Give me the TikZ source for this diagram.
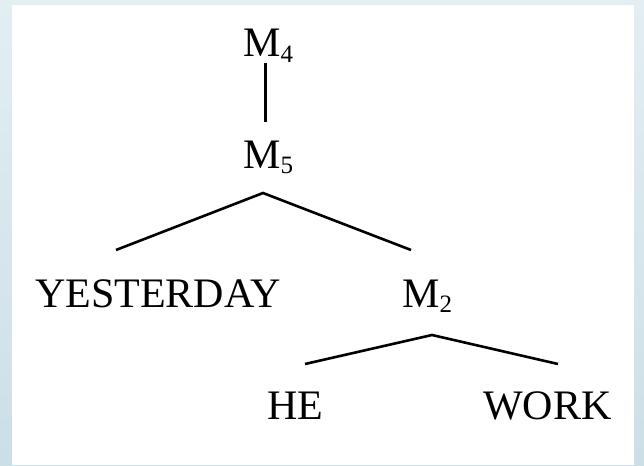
\documentclass[tikz,border=0pt]{standalone}
\usepackage{fontspec}
\setmainfont{Liberation Serif}
\usetikzlibrary{calc}
% lowered, smaller index after a symbol
\newcommand\lowsub[1]{\raisebox{-5.5pt}{\fontsize{25}{25}\selectfont #1}}
\definecolor{frametop}{HTML}{E3EEF2}
\definecolor{framebottom}{HTML}{CCDFE6}
\begin{document}
\begin{tikzpicture}[x=1pt,y=-1pt,
  word/.style={inner sep=0pt,anchor=base west,font=\fontsize{42}{50}\selectfont},
  stem/.style={line width=3pt},
  branch/.style={line width=2.6pt,line join=miter}]
% page and frame
\shade[top color=frametop,bottom color=framebottom] (0,0) rectangle (644,465);
\fill[white] (12,5) rectangle (634,465);
\useasboundingbox (0,0) rectangle (644,465);
% tree labels
\node[word] (m4) at (243,57) {M\lowsub{4}};
\node[word] (m5) at (243,168) {M\lowsub{5}};
\node[word] (yesterday) at (35,307) {YESTERDAY};
\node[word] (m2) at (402,307) {M\lowsub{2}};
\node[word] (he) at (267,419) {HE};
\node[word] (work) at (483,419) {WORK};
% attachment points of the branches
\coordinate (m4 foot) at (265,63);
\coordinate (m5 head) at (265,122);
\coordinate (m5 foot) at (263,193);
\coordinate (yesterday head) at (116,250);
\coordinate (m2 head) at (411,250);
\coordinate (m2 foot) at (432,335);
\coordinate (he head) at (305,364);
\coordinate (work head) at (558,364);
% branches
\draw[stem] (m4 foot) -- (m5 head);
\draw[branch] (yesterday head) -- (m5 foot) -- (m2 head);
\draw[branch] (he head) -- (m2 foot) -- (work head);
\end{tikzpicture}
\end{document}
